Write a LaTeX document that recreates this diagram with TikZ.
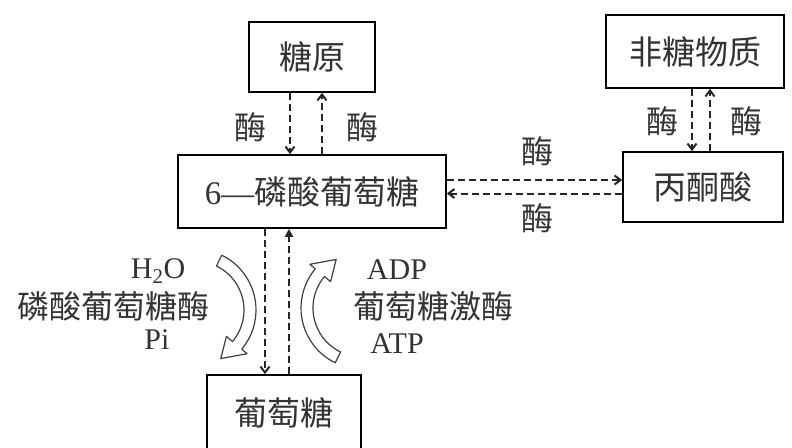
\documentclass[tikz,border=0pt]{standalone}
\usepackage{fontspec}
\setmainfont{Liberation Serif}
\newfontfamily\cjk{Noto Sans CJK SC}
\usetikzlibrary{arrows.meta}
\tikzset{
  box/.style={draw, line width=1.6pt, inner sep=0pt, text=black!80,
    font=\cjk\fontsize{33}{33}\selectfont},
  dsh/.style={line width=2pt, dash pattern=on 7pt off 4pt, black!85},
  arrv/.style={dsh, -{Straight Barb[length=6pt,width=9pt]}},
  arrf/.style={dsh, -{Triangle[length=8pt,width=8pt]}},
  lab/.style={inner sep=0pt, text=black!80, font=\cjk\fontsize{32}{32}\selectfont},
  lat/.style={inner sep=0pt, text=black!80, font=\fontsize{30}{30}\selectfont},
  curvearrow/.style={draw=black!75, line width=1.2pt, fill=white, line join=round}
}
\begin{document}
\begin{tikzpicture}[x=1pt,y=-1pt]
\useasboundingbox (0,0) rectangle (792,447);
% boxes
\node[box, minimum width=126pt, minimum height=70pt] (ty) at (312,57) {糖原};
\node[box, minimum width=178pt, minimum height=73pt] (fz) at (695,51.5) {非糖物质};
\node[box, minimum width=268pt, minimum height=73pt] (p6) at (312,191.5) {{\rmfamily 6—}磷酸葡萄糖};
\node[box, minimum width=160pt, minimum height=70pt] (bt) at (703,187) {丙酮酸};
\node[box, minimum width=154pt, minimum height=76pt] (pt) at (284,413) {葡萄糖};
% glycogen <-> G6P
\draw[arrv] ([xshift=-22pt]ty.south) -- ([xshift=-22pt]ty.south |- p6.north);
\draw[arrv] ([xshift=10pt]ty.south |- p6.north) -- ([xshift=10pt]ty.south);
\node[lab] (m1) at (250,127) {酶};
\node[lab] (m2) at (362,127) {酶};
% non-sugar <-> pyruvate
\draw[arrv] ([xshift=-3pt]fz.south) -- ([xshift=-3pt]fz.south |- bt.north);
\draw[arrv] ([xshift=15pt]fz.south |- bt.north) -- ([xshift=15pt]fz.south);
\node[lab] (m3) at (662,121) {酶};
\node[lab] (m4) at (746,121) {酶};
% G6P <-> pyruvate
\draw[arrv] ([yshift=11.5pt]p6.east) -- ([yshift=11.5pt]p6.east -| bt.west);
\draw[arrv] ([yshift=-2pt]p6.east -| bt.west) -- ([yshift=-2pt]p6.east);
\node[lab] (m5) at (537,151) {酶};
\node[lab] (m6) at (537,218) {酶};
% G6P <-> glucose
\draw[arrv] ([xshift=-47pt]p6.south) -- ([xshift=-47pt]p6.south |- pt.north);
\draw[arrf] ([xshift=-23pt]p6.south |- pt.north) -- ([xshift=-23pt]p6.south);
% curved hollow arrows
\begin{scope}[shift={(195,310)}]
\draw[curvearrow] (-64:61) arc[start angle=-64, end angle=40, radius=61] -- (40:68) -- (62:55)
  -- (40:41) -- (40:49) arc[start angle=40, end angle=-64, radius=49] -- cycle;
\end{scope}
\begin{scope}[shift={(362,308)}]
\draw[curvearrow] (116:61) arc[start angle=116, end angle=220, radius=61] -- (220:68) -- (242:55)
  -- (220:41) -- (220:49) arc[start angle=220, end angle=116, radius=49] -- cycle;
\end{scope}
% side labels
\node[lat] (h2o) at (158,271) {H\textsubscript{2}O};
\node[lab] (lsm) at (113,306) {磷酸葡萄糖酶};
\node[lat] (pi) at (157,340) {Pi};
\node[lat] (adp) at (397,270) {ADP};
\node[lab] (ptm) at (433,306) {葡萄糖激酶};
\node[lat] (atp) at (397,344) {ATP};
\end{tikzpicture}
\end{document}
